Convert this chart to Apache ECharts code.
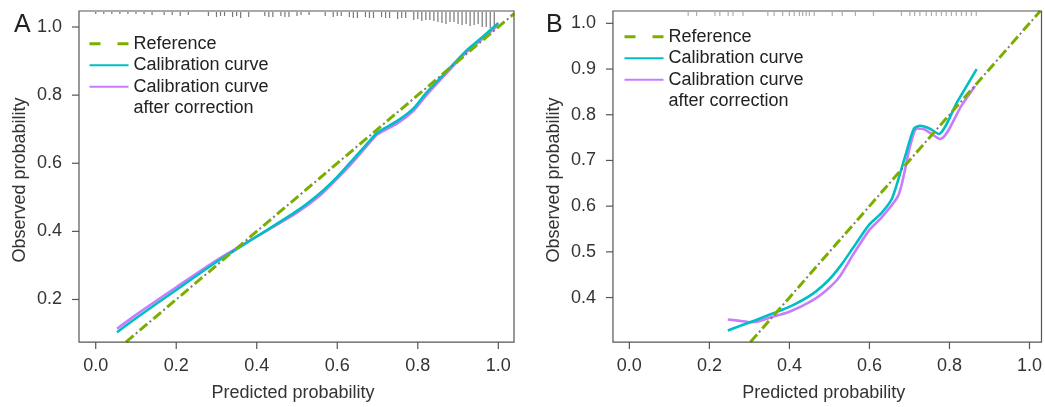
<!DOCTYPE html>
<html>
<head>
<meta charset="utf-8">
<title>Calibration curves</title>
<script src="https://cdn.jsdelivr.net/npm/echarts@6/dist/echarts.min.js"></script>
<style>
  html, body { margin: 0; padding: 0; background: #fff; }
  #chart { width: 1045px; height: 407px; }
</style>
</head>
<body>
<div id="chart"></div>
<script>
// tick labels
const xTicks = [0, 0.2, 0.4, 0.6, 0.8, 1.0]
const yTicksA = [0.2, 0.4, 0.6, 0.8, 1.0]
const yTicksB = [0.4, 0.5, 0.6, 0.7, 0.8, 0.9, 1.0]

// panel A curves
const calAx = [0.053, 0.1, 0.2, 0.3, 0.4, 0.5, 0.557, 0.6, 0.64, 0.68, 0.7, 0.75, 0.79, 0.82, 0.86, 0.92, 0.96, 1.0]
const calAy = [0.104, 0.145, 0.228, 0.31, 0.385, 0.46, 0.512, 0.56, 0.612, 0.665, 0.69, 0.725, 0.762, 0.805, 0.855, 0.93, 0.97, 1.012]
const corAx = [0.053, 0.1, 0.2, 0.3, 0.4, 0.5, 0.557, 0.6, 0.64, 0.68, 0.7, 0.75, 0.79, 0.82, 0.86, 0.92, 0.96, 1.0]
const corAy = [0.114, 0.155, 0.236, 0.315, 0.385, 0.455, 0.505, 0.555, 0.605, 0.66, 0.685, 0.718, 0.755, 0.798, 0.85, 0.925, 0.965, 1.006]

// panel B curves
const calBx = [0.246, 0.317, 0.358, 0.408, 0.458, 0.5, 0.53, 0.56, 0.6, 0.63, 0.657, 0.69, 0.711, 0.727, 0.75, 0.773, 0.82, 0.868]
const calBy = [0.328, 0.351, 0.365, 0.383, 0.408, 0.44, 0.472, 0.51, 0.56, 0.585, 0.618, 0.711, 0.769, 0.776, 0.77, 0.758, 0.829, 0.9]
const corBx = [0.246, 0.267, 0.308, 0.358, 0.4, 0.458, 0.491, 0.524, 0.56, 0.6, 0.63, 0.673, 0.702, 0.719, 0.735, 0.777, 0.83, 0.864]
const corBy = [0.352, 0.35, 0.346, 0.358, 0.369, 0.394, 0.415, 0.444, 0.495, 0.548, 0.575, 0.625, 0.733, 0.77, 0.769, 0.747, 0.82, 0.863]

// rug of predicted probabilities (position, relative frequency)
const rugAx = [0.00, 0.02, 0.04, 0.06, 0.08, 0.10, 0.12, 0.14, 0.17, 0.19, 0.21, 0.23, 0.28, 0.30, 0.31, 0.32, 0.34, 0.35, 0.36, 0.38, 0.42, 0.43, 0.44, 0.46, 0.47, 0.48, 0.50, 0.51, 0.53, 0.57, 0.59, 0.60, 0.61, 0.63, 0.64, 0.65, 0.67, 0.68, 0.69, 0.71, 0.72, 0.73, 0.75, 0.76, 0.77, 0.79, 0.80, 0.81, 0.82, 0.83, 0.84, 0.85, 0.86, 0.87, 0.88, 0.89, 0.90, 0.91, 0.92, 0.93, 0.94, 0.95, 0.96, 0.97, 0.98, 0.99]
const rugAf = [2, 2, 2, 2, 2, 2, 2, 3, 3, 3, 4, 3, 4, 5, 4, 4, 5, 4, 6, 5, 4, 5, 5, 4, 5, 5, 4, 3, 3, 4, 5, 4, 4, 5, 6, 6, 5, 6, 6, 5, 6, 6, 7, 6, 6, 8, 7, 9, 8, 8, 9, 10, 11, 12, 10, 10, 12, 13, 12, 14, 13, 12, 15, 15, 16, 16]
const rugBx = [0.147, 0.168, 0.214, 0.226, 0.247, 0.259, 0.284, 0.346, 0.362, 0.383, 0.4, 0.412, 0.425, 0.433, 0.442, 0.45, 0.462, 0.507, 0.532, 0.565, 0.61, 0.68, 0.701, 0.713, 0.726, 0.742, 0.755, 0.767, 0.78, 0.792, 0.805, 0.817, 0.83, 0.842, 0.855, 0.867]

const GREEN = '#7CAE00'
const CYAN = '#00BFC4'
const PURPLE = '#C77CFF'
const FONT = 'Liberation Sans'
const TICK = 7

const zip = (xs, ys) => xs.map((x, i) => [x, ys[i]])

// plot boxes and their data ranges; the grid is widened by the tick length
// on the left and bottom so the outward ticks fall inside the grid
const boxA = { left: 79, top: 11, width: 435, height: 334 }
const boxB = { left: 613, top: 11, width: 431, height: 334 }
const rangeA = { xMin: -0.0415, xMax: 1.039, yMin: 0.075, yMax: 1.047 }
const rangeB = { xMin: -0.041, xMax: 1.03, yMin: 0.3026, yMax: 1.027 }

function gridOf(box) {
  return { left: box.left - TICK, top: box.top, width: box.width + TICK, height: box.height + TICK, show: false }
}
function extMin(min, max, px) {
  return min - TICK * (max - min) / px
}

const chart = echarts.init(document.getElementById('chart'), null, { renderer: 'canvas' })

function xAxisOf(idx, r, box) {
  return {
    type: 'value', gridIndex: idx, min: extMin(r.xMin, r.xMax, box.width), max: r.xMax,
    name: 'Predicted probability', nameLocation: 'middle', nameGap: 42 - TICK,
    nameTextStyle: { fontSize: 18, color: '#333', fontFamily: FONT },
    axisLine: { show: false, onZero: false },
    axisTick: { show: false },
    axisLabel: { customValues: xTicks, margin: 15 - TICK, fontSize: 18, color: '#333', fontFamily: FONT,
      formatter: v => v.toFixed(1) },
    splitLine: { show: false }
  }
}

function yAxisOf(idx, r, box, ticks) {
  return {
    type: 'value', gridIndex: idx, min: extMin(r.yMin, r.yMax, box.height), max: r.yMax,
    name: 'Observed probability', nameLocation: 'middle', nameGap: 50 - TICK,
    nameTextStyle: { fontSize: 18, color: '#333', fontFamily: FONT },
    axisLine: { show: false, onZero: false },
    axisTick: { show: false },
    axisLabel: { customValues: ticks, margin: 17 - TICK, fontSize: 18, color: '#333', fontFamily: FONT,
      formatter: v => v.toFixed(1) },
    splitLine: { show: false }
  }
}

// box round the data range
function boxSeries(idx, r) {
  return {
    type: 'custom', xAxisIndex: idx, yAxisIndex: idx, silent: true, clip: false, z: 6,
    data: [[r.xMin, r.yMin]],
    renderItem: (params, api) => {
      const p1 = api.coord([r.xMin, r.yMax])
      const p2 = api.coord([r.xMax, r.yMin])
      return {
        type: 'rect',
        shape: { x: p1[0], y: p1[1], width: p2[0] - p1[0], height: p2[1] - p1[1] },
        style: { fill: 'transparent', stroke: '#555', lineWidth: 1.2 }
      }
    }
  }
}

// outward tick marks
function tickSeries(idx, r, yTicks) {
  return {
    type: 'custom', xAxisIndex: idx, yAxisIndex: idx, silent: true, clip: false, z: 6,
    data: xTicks.map(v => [v, r.yMin, 0]).concat(yTicks.map(v => [r.xMin, v, 1])),
    renderItem: (params, api) => {
      const p = api.coord([api.value(0), api.value(1)])
      const shape = api.value(2) === 0
        ? { x1: p[0], y1: p[1], x2: p[0], y2: p[1] + TICK }
        : { x1: p[0] - TICK, y1: p[1], x2: p[0], y2: p[1] }
      return { type: 'line', shape: shape, style: { stroke: '#555', lineWidth: 1.2 } }
    }
  }
}

function rugSeries(idx, xs, fs, yTop, color) {
  return {
    type: 'custom', xAxisIndex: idx, yAxisIndex: idx, silent: true, clip: true, z: 1,
    data: xs.map((x, i) => [x, fs ? fs[i] : 4]),
    renderItem: (params, api) => {
      const p = api.coord([api.value(0), yTop])
      return {
        type: 'line',
        shape: { x1: p[0], y1: p[1] + 1, x2: p[0], y2: p[1] + 1 + api.value(1) },
        style: { stroke: color, lineWidth: 1.2 }
      }
    }
  }
}

function refSeries(idx, r) {
  const lo = Math.max(r.xMin, r.yMin)
  const hi = Math.min(r.xMax, r.yMax)
  return [{
    name: 'ref-dots', type: 'line', xAxisIndex: idx, yAxisIndex: idx, symbol: 'none', silent: true, z: 4,
    data: [[lo, lo], [hi, hi]],
    lineStyle: { color: '#777', width: 2, type: [2, 16], dashOffset: -13 }
  }, {
    name: 'Reference', type: 'line', xAxisIndex: idx, yAxisIndex: idx, symbol: 'none', silent: true, z: 5,
    data: [[lo, lo], [hi, hi]], color: GREEN,
    lineStyle: { color: GREEN, width: 3, type: [10, 8] }
  }]
}

function curveSeries(idx, name, xs, ys, color) {
  return {
    name: name, type: 'line', xAxisIndex: idx, yAxisIndex: idx, symbol: 'none', smooth: 0.25, z: 3,
    data: zip(xs, ys), color: color,
    lineStyle: { color: color, width: 2.6 }
  }
}

function legendOf(left, top) {
  return {
    orient: 'vertical', left: left, top: top, padding: 0, itemGap: 0,
    itemWidth: 39, itemHeight: 14, selectedMode: false,
    itemStyle: { opacity: 0 },
    textStyle: { fontSize: 18, color: '#222', fontFamily: FONT, lineHeight: 21.5 },
    formatter: n => (n === 'Corrected' ? 'Calibration curve' : n),
    data: [
      { name: 'Reference', lineStyle: { type: [11, 17], width: 3 } },
      'Calibration curve',
      'Corrected',
      { name: 'after correction', lineStyle: { opacity: 0 } }
    ]
  }
}

chart.setOption({
  animation: false,
  title: [
    { text: 'A', left: 9, top: 8, textStyle: { fontSize: 25, fontWeight: 'normal', color: '#222', fontFamily: FONT } },
    { text: 'B', left: 541, top: 8, textStyle: { fontSize: 25, fontWeight: 'normal', color: '#222', fontFamily: FONT } }
  ],
  grid: [gridOf(boxA), gridOf(boxB)],
  legend: [legendOf(88, 33), legendOf(623, 26)],
  xAxis: [xAxisOf(0, rangeA, boxA), xAxisOf(1, rangeB, boxB)],
  yAxis: [yAxisOf(0, rangeA, boxA, yTicksA), yAxisOf(1, rangeB, boxB, yTicksB)],
  series: [
    boxSeries(0, rangeA),
    boxSeries(1, rangeB),
    tickSeries(0, rangeA, yTicksA),
    tickSeries(1, rangeB, yTicksB),
    rugSeries(0, rugAx, rugAf, rangeA.yMax, '#777'),
    rugSeries(1, rugBx, null, rangeB.yMax, 'rgba(140,140,140,0.7)'),
    curveSeries(0, 'Corrected', corAx, corAy, PURPLE),
    curveSeries(0, 'Calibration curve', calAx, calAy, CYAN),
    curveSeries(1, 'Corrected', corBx, corBy, PURPLE),
    curveSeries(1, 'Calibration curve', calBx, calBy, CYAN),
    ...refSeries(0, rangeA),
    ...refSeries(1, rangeB),
    { name: 'after correction', type: 'line', xAxisIndex: 0, yAxisIndex: 0, symbol: 'none', data: [],
      lineStyle: { opacity: 0 } }
  ]
})
</script>
</body>
</html>
